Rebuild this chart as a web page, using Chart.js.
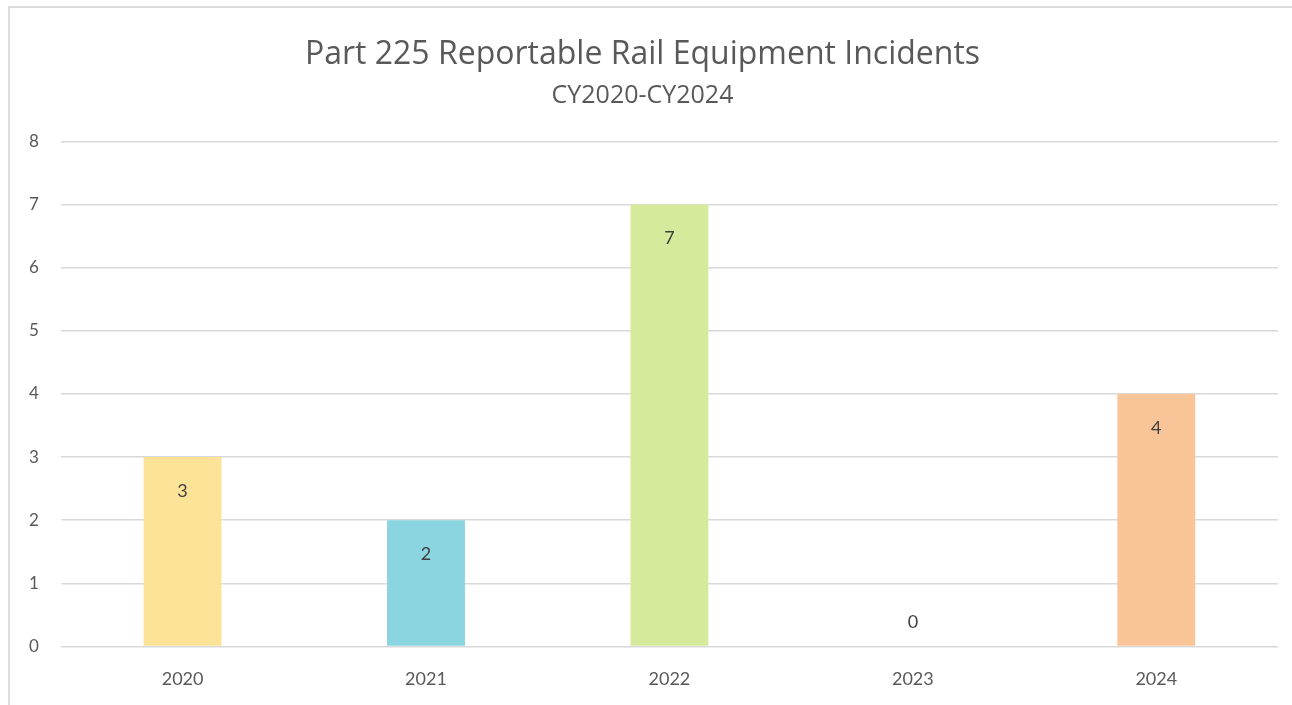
<!DOCTYPE html>
<html>
<head>
<meta charset="utf-8">
<script src="https://cdn.jsdelivr.net/npm/chart.js@4"></script>
<style>
  html, body { margin: 0; padding: 0; background: #fff; overflow: hidden; }
  #frame {
    position: absolute; left: 8px; top: 6px; width: 1320px; height: 720px;
    border-left: 2px solid #dcdcdc; border-top: 2px solid #dcdcdc;
  }
  #wrap { position: absolute; left: -10px; top: -8px; width: 1292px; height: 704px; }
</style>
</head>
<body>
<div id="frame"><div id="wrap"><canvas id="incidentsChart"></canvas></div></div>
<script>
// Chart data
const years = ["2020", "2021", "2022", "2023", "2024"];
const incidents = [3, 2, 7, 0, 4];
const barColors = ["#fde398", "#8ad5e0", "#d5eb9b", "#b4b4b4", "#f9c498"];
const yTicks = [0, 1, 2, 3, 4, 5, 6, 7, 8];

// ----- value labels just inside the top of each bar -----
const valueLabels = {
  id: "valueLabels",
  afterDatasetsDraw(chart) {
    const ctx = chart.ctx;
    const meta = chart.getDatasetMeta(0);
    ctx.save();
    ctx.font = "18px Lato";
    ctx.fillStyle = "#404040";
    ctx.textAlign = "center";
    ctx.textBaseline = "middle";
    meta.data.forEach((bar, i) => {
      const v = incidents[i];
      const y = v > 0 ? bar.y + 34 : bar.y - 24;
      ctx.fillText(String(v), bar.x, y);
    });
    ctx.restore();
  }
};

new Chart(document.getElementById("incidentsChart"), {
  type: "bar",
  data: {
    labels: years,
    datasets: [{
      data: incidents,
      backgroundColor: barColors,
      categoryPercentage: 1,
      barPercentage: 0.32
    }]
  },
  options: {
    responsive: true,
    maintainAspectRatio: false,
    animation: false,
    layout: { padding: { left: 7, right: 14, top: 36, bottom: 0 } },
    plugins: {
      legend: { display: false },
      tooltip: { enabled: false },
      title: {
        display: true,
        text: "Part 225 Reportable Rail Equipment Incidents",
        color: "#595959",
        font: { family: "Open Sans", size: 32, weight: "normal" },
        padding: { top: 0, bottom: 6 }
      },
      subtitle: {
        display: true,
        text: "CY2020-CY2024",
        color: "#595959",
        font: { family: "Open Sans", size: 25 },
        padding: { top: 0, bottom: 31 }
      }
    },
    scales: {
      x: {
        grid: { display: false },
        border: { display: false },
        ticks: { color: "#595959", font: { family: "Lato", size: 18 }, padding: 14 }
      },
      y: {
        min: 0,
        max: 8,
        afterBuildTicks: axis => { axis.ticks = yTicks.map(v => ({ value: v })); },
        grid: { color: "#d9d9d9", lineWidth: 1.5, drawTicks: false },
        border: { display: false },
        ticks: { color: "#595959", font: { family: "Lato", size: 17 }, padding: 22 }
      }
    }
  },
  plugins: [valueLabels]
});
</script>
</body>
</html>
